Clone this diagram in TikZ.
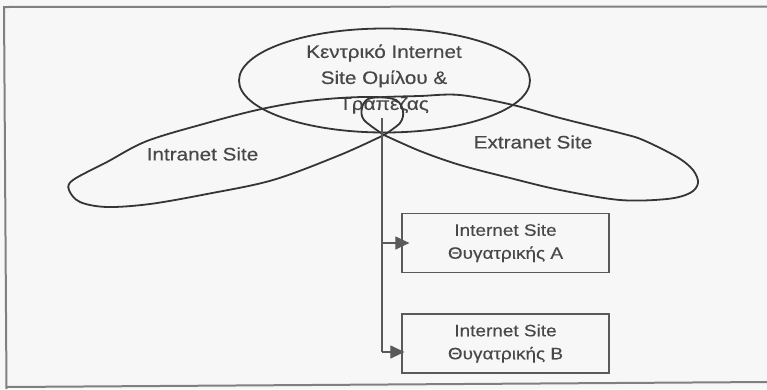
\documentclass[tikz,border=0pt]{standalone}
\usepackage{fontspec}
\setmainfont{Liberation Sans}[FakeStretch=1.15,FakeBold=0.4]
\usetikzlibrary{arrows.meta,shapes.geometric,calc}
\definecolor{inkline}{HTML}{353535}
\definecolor{inktext}{HTML}{484848}
\definecolor{boxline}{HTML}{5A5A5A}
\definecolor{frameline}{HTML}{808080}
\definecolor{paper}{HTML}{F7F7F7}
\begin{document}
\begin{tikzpicture}[x=1pt,y=-1pt,
  petal/.style={draw=inkline,line width=1.8pt},
  lbl/.style={text=inktext,font=\fontsize{18}{26}\selectfont,align=center,inner sep=0pt},
  sitebox/.style={draw=boxline,line width=1.2pt,minimum width=207pt,minimum height=59pt,
    text=inktext,font=\fontsize{16.5}{23}\selectfont,align=center,inner sep=0pt},
  conn/.style={draw=boxline,line width=1.1pt},
  arr/.style={conn,-{Triangle[length=14pt,width=13pt]},shorten >=0pt}]
\useasboundingbox (0,0) rectangle (767,389);
\fill[paper] (0,0) rectangle (767,389);
% frame
\draw[frameline,line width=2pt] (767,6.5) -- (4,7) -- (6.5,389);
\draw[frameline,line width=2pt] (6,387) -- (767,382);
% junction
\coordinate (J) at (384,135);
% central ellipse
\node[draw=inkline,line width=1.8pt,ellipse,minimum width=291pt,minimum height=104pt,inner sep=0pt] (hub) at (384.5,80.5) {};
\node[lbl] (hubtext) at (384,79) {Κεντρικό Internet\\Site Ομίλου \&\\Τράπεζας};
% left petal (Intranet)
\draw[petal] plot[smooth,tension=0.55] coordinates {
 (J) (340,155) (273,180) (207,194) (150,204) (107,207) (80,202) (69,190)
 (73,180) (107,162) (147,141) (207,123) (257,110) (300,102) (340,98) (375,97)
 (396,100) (403,111) (400,123) (J)};
% right petal (Extranet)
\draw[petal] plot[smooth,tension=0.55] coordinates {
 (J) (420,151) (460,165) (510,178) (560,190) (620,200) (667,199) (690,193) (698,183)
 (693,170) (677,157) (643,140) (620,133) (560,118) (513,105) (460,95) (420,96)
 (385,97) (368,99) (362,108) (364,120) (J)};
\node[lbl] (intra) at (202.5,154) {Intranet Site};
\node[lbl] (extra) at (533,142) {Extranet Site};
% boxes
\node[sitebox] (boxA) at (505.5,243) {Internet Site\\Θυγατρικής Α};
\node[sitebox] (boxB) at (505.5,343.5) {Internet Site\\Θυγατρικής Β};
% connectors
\coordinate (vtop) at (382,118);
\coordinate (tipA) at ($(boxA.west)+(8,0)$);
\coordinate (tipB) at ($(boxB.west)+(3,8.5)$);
\draw[conn] (vtop) -- (vtop |- tipB);
\draw[arr] (vtop |- tipA) -- (tipA);
\draw[arr] (vtop |- tipB) -- (tipB);
\end{tikzpicture}
\end{document}
